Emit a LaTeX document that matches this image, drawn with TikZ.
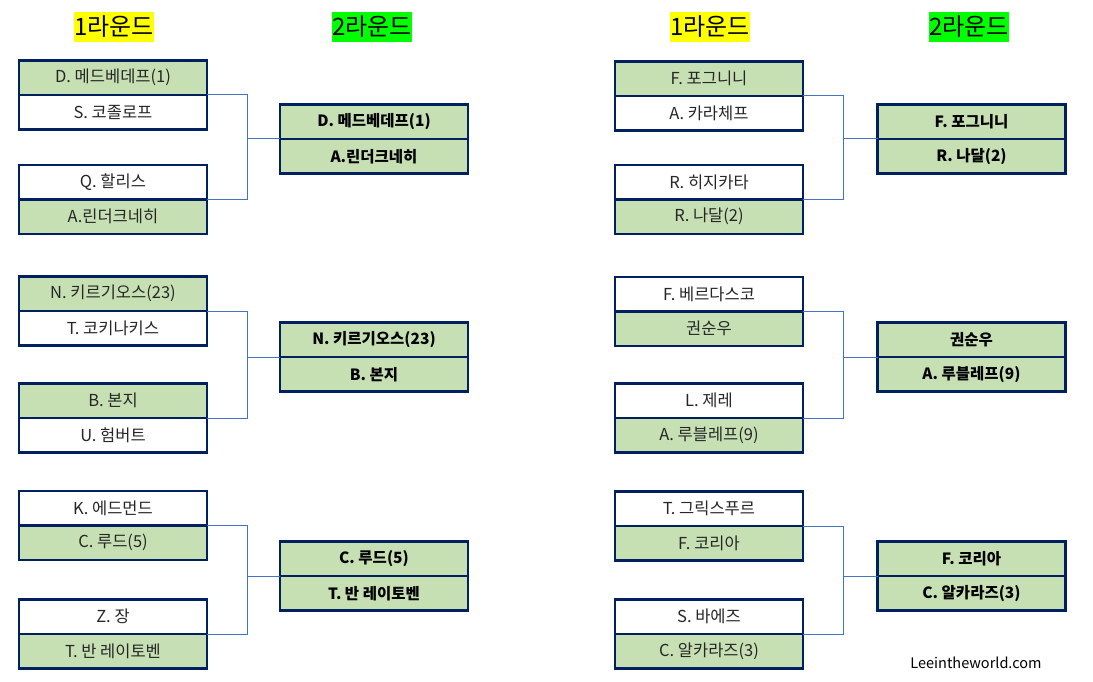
\documentclass[tikz,border=0pt]{standalone}
\usepackage{fontspec}
\setmainfont{Noto Sans CJK KR}
\newfontfamily\krfont{Noto Sans CJK KR}
\definecolor{navy}{HTML}{002060}
\definecolor{cellgreen}{HTML}{C6E0B4}
\definecolor{linkblue}{HTML}{4472C4}
\definecolor{hdryellow}{HTML}{FFFF00}
\definecolor{hdrgreen}{HTML}{00FF00}
\tikzset{
  cellbase/.style={draw=navy, line width=2.8pt, minimum width=188pt, minimum height=34.5pt,
    inner sep=0pt, outer sep=0pt, font=\krfont\fontsize{16.5}{19}\selectfont, text=black!85},
  cellg/.style={cellbase, fill=cellgreen},
  cellw/.style={cellbase, fill=white},
  winner/.style={cellbase, fill=cellgreen, font=\krfont\fontsize{15.5}{18}\selectfont\bfseries, text=black},
  header/.style={inner xsep=0pt, inner ysep=1pt, font=\krfont\fontsize{24}{28}\selectfont, text=black, minimum height=30pt},
  link/.style={draw=linkblue, line width=1pt},
}
% \matchpair{name}{cx}{top}{style1}{text1}{style2}{text2}
\newcommand{\matchpair}[7]{%
  \node[#4] (#1a) at (#2,#3+17.25) {#5};
  \node[#6] (#1b) at (#2,#3+51.75) {#7};
}
\begin{document}
\begin{tikzpicture}[x=1pt,y=-1pt]
\useasboundingbox (0,0) rectangle (1093,682);
% headers
\node[header, fill=hdryellow] (h1) at (114,27) {1라운드};
\node[header, fill=hdrgreen] (h2) at (372,27) {2라운드};
\node[header, fill=hdryellow] (h3) at (710,27) {1라운드};
\node[header, fill=hdrgreen] (h4) at (969,27) {2라운드};
% left round 1
\matchpair{la}{113}{60.5}{cellg}{D. 메드베데프(1)}{cellw}{S. 코졸로프}
\matchpair{lb}{113}{165}{cellw}{Q. 할리스}{cellg}{A.린더크네히}
\matchpair{lc}{113}{276.5}{cellg}{N. 키르기오스(23)}{cellw}{T. 코키나키스}
\matchpair{ld}{113}{383.5}{cellg}{B. 본지}{cellw}{U. 험버트}
\matchpair{le}{113}{491}{cellw}{K. 에드먼드}{cellg}{C. 루드(5)}
\matchpair{lf}{113}{599.5}{cellw}{Z. 장}{cellg}{T. 반 레이토벤}
% left round 2
\matchpair{lw1}{374}{104.5}{winner}{D. 메드베데프(1)}{winner}{A.린더크네히}
\matchpair{lw2}{374}{322.5}{winner}{N. 키르기오스(23)}{winner}{B. 본지}
\matchpair{lw3}{374}{541.5}{winner}{C. 루드(5)}{winner}{T. 반 레이토벤}
% right round 1
\matchpair{ra}{709}{61.5}{cellg}{F. 포그니니}{cellw}{A. 카라체프}
\matchpair{rb}{709}{165}{cellw}{R. 히지카타}{cellg}{R. 나달(2)}
\matchpair{rc}{709}{277}{cellw}{F. 베르다스코}{cellg}{권순우}
\matchpair{rd}{709}{383.5}{cellw}{L. 제레}{cellg}{A. 루블레프(9)}
\matchpair{re}{709}{491.5}{cellw}{T. 그릭스푸르}{cellg}{F. 코리아}
\matchpair{rf}{709}{599.5}{cellw}{S. 바에즈}{cellg}{C. 알카라즈(3)}
% right round 2
\matchpair{rw1}{971.5}{104.5}{winner}{F. 포그니니}{winner}{R. 나달(2)}
\matchpair{rw2}{971.5}{322.5}{winner}{권순우}{winner}{A. 루블레프(9)}
\matchpair{rw3}{971.5}{541.5}{winner}{F. 코리아}{winner}{C. 알카라즈(3)}
% connectors
\coordinate (jl1) at (247,0);
\coordinate (jr1) at (843,0);
\foreach \u/\v/\w/\j in {la/lb/lw1/jl1, lc/ld/lw2/jl1, le/lf/lw3/jl1, ra/rb/rw1/jr1, rc/rd/rw2/jr1, re/rf/rw3/jr1}{
  \draw[link] (\u a.south east) -- (\u a.south east -| \j) -- (\v a.south east -| \j) -- (\v a.south east);
  \draw[link] (\w a.south west -| \j) -- (\w a.south west);
}
% watermark
\node[font=\krfont\fontsize{14.5}{17}\selectfont, text=black, inner sep=0pt] (wm) at (976,663) {Leeintheworld.com};
\end{tikzpicture}
\end{document}
